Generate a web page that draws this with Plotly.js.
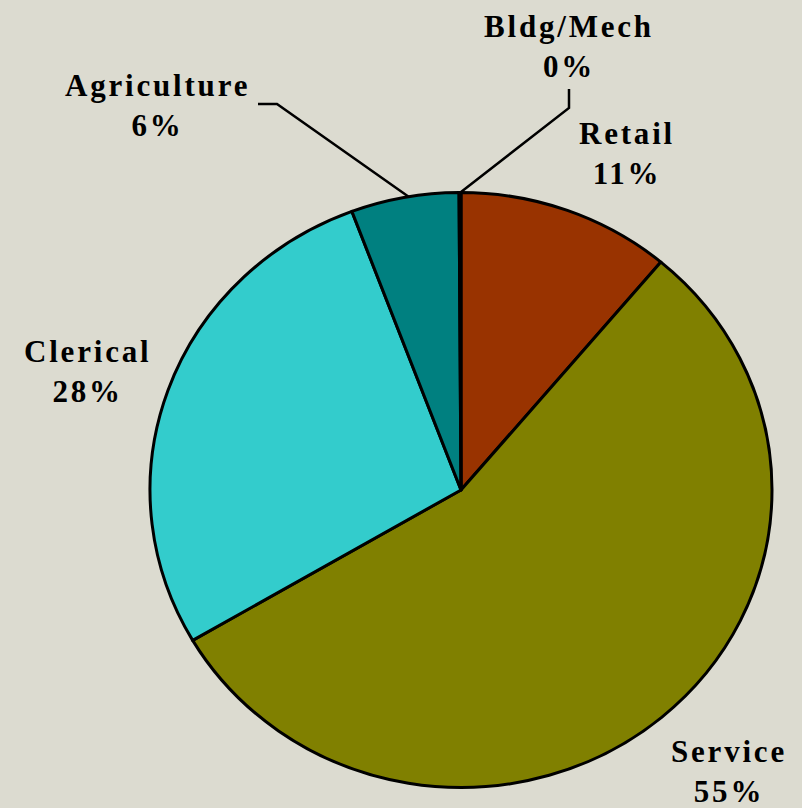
<!DOCTYPE html>
<html>
<head>
<meta charset="utf-8">
<script src="https://cdn.plot.ly/plotly-3.0.1.min.js"></script>
<style>
  html, body { margin: 0; padding: 0; background: #dcdbd0; }
  #chart { width: 802px; height: 808px; }
  .pielayer { transform: scale(1, 0.9566); transform-origin: 461px 490px; }
  .pielayer path { vector-effect: non-scaling-stroke; }
  .annotation-text { letter-spacing: 2.8px; }
</style>
</head>
<body>
<div id="chart"></div>
<script>
// Data (clockwise from 12 o'clock)
const categories = ["Retail", "Service", "Clerical", "Agriculture", "Bldg/Mech"];
const values = [11.1, 55.4, 27.7, 5.6, 0.1];
const colors = ["#993300", "#808000", "#33cccc", "#008080", "#ccffff"];

const W = 802, H = 808;
const px = x => x / W;
const py = y => 1 - y / H;

// Label block centres (pixels) for each category
const labelPos = {
  "Retail": [627, 153],
  "Service": [729, 771],
  "Clerical": [87, 371],
  "Agriculture": [157, 105],
  "Bldg/Mech": [569, 46]
};

const total = values.reduce((a, b) => a + b, 0);
const annotations = categories.map((c, i) => ({
  text: c + "<br>" + Math.round(values[i] / total * 100) + "%",
  x: px(labelPos[c][0]), y: py(labelPos[c][1]),
  xref: "paper", yref: "paper",
  xanchor: "center", yanchor: "middle",
  showarrow: false,
  align: "center",
  font: { family: "Liberation Serif, Times New Roman, serif", size: 31, color: "#000000", weight: "bold" }
}));

// Leader lines (pixel polylines)
const leaders = [
  [[258, 104], [277, 104], [409, 197]],
  [[569, 89], [569, 108], [461, 192]]
];
const shapes = leaders.map(pts => ({
  type: "path", xref: "paper", yref: "paper",
  path: pts.map((p, k) => (k ? "L" : "M") + px(p[0]) + "," + py(p[1])).join(" "),
  line: { color: "#000000", width: 2.5 }
}));

const trace = {
  type: "pie",
  labels: categories,
  values: values,
  sort: false,
  direction: "clockwise",
  rotation: 0,
  textinfo: "none",
  hoverinfo: "label+percent",
  marker: { colors: colors, line: { color: "#000000", width: 3 } },
  domain: { x: [150 / W, 772 / W], y: [1 - 801 / H, 1 - 179 / H] },
  showlegend: false
};

const layout = {
  width: W, height: H,
  margin: { l: 0, r: 0, t: 0, b: 0 },
  paper_bgcolor: "#dcdbd0",
  plot_bgcolor: "#dcdbd0",
  showlegend: false,
  annotations: annotations,
  shapes: shapes
};

Plotly.newPlot("chart", [trace], layout, { displayModeBar: false, staticPlot: true });
</script>
</body>
</html>
